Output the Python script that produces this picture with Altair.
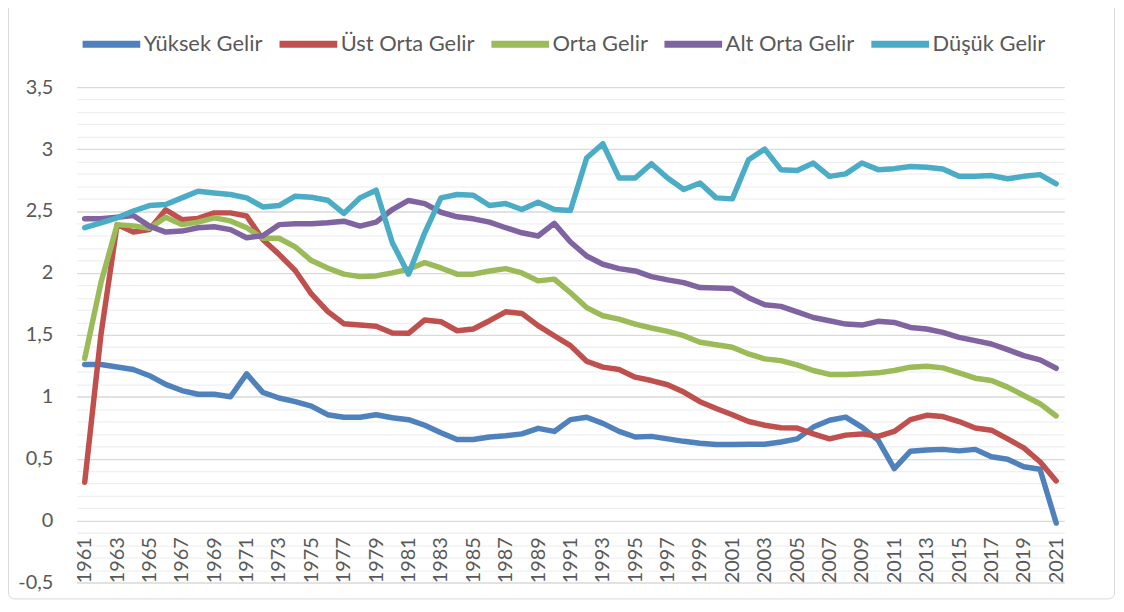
import altair as alt
import pandas as pd

years = list(range(1961, 2022))

series_names = ["Yüksek Gelir", "Üst Orta Gelir", "Orta Gelir", "Alt Orta Gelir", "Düşük Gelir"]
series_colors = ["#4F81BD", "#C0504D", "#9BBB59", "#8064A2", "#4BACC6"]

yuksek = [1.26, 1.26, 1.24, 1.22, 1.17, 1.10, 1.05, 1.02, 1.02, 1.00,
          1.185, 1.035, 0.99, 0.96, 0.925, 0.855, 0.835, 0.835, 0.855, 0.83,
          0.815, 0.77, 0.71, 0.655, 0.655, 0.675, 0.685, 0.70, 0.745, 0.72,
          0.815, 0.835, 0.785, 0.72, 0.675, 0.68, 0.66, 0.64, 0.625, 0.615,
          0.614, 0.617, 0.617, 0.635, 0.66, 0.755, 0.81, 0.835, 0.755, 0.65,
          0.42, 0.56, 0.57, 0.575, 0.563, 0.575, 0.515, 0.495, 0.435, 0.415,
          -0.02]
ust_orta = [0.31, 1.5, 2.39, 2.33, 2.35, 2.51, 2.43, 2.44, 2.485, 2.485,
            2.46, 2.27, 2.15, 2.02, 1.83, 1.69, 1.59, 1.58, 1.57, 1.515,
            1.512, 1.62, 1.606, 1.533, 1.547, 1.614, 1.686, 1.673, 1.574, 1.493,
            1.413, 1.287, 1.239, 1.22, 1.158, 1.131, 1.097, 1.038, 0.96, 0.905,
            0.855, 0.80, 0.77, 0.75, 0.748, 0.70, 0.66, 0.69, 0.70, 0.68,
            0.72, 0.815, 0.85, 0.84, 0.80, 0.748, 0.73, 0.66, 0.587, 0.475,
            0.32]
orta = [1.31, 1.92, 2.39, 2.38, 2.36, 2.45, 2.39, 2.41, 2.445, 2.42,
        2.365, 2.28, 2.28, 2.21, 2.10, 2.04, 1.99, 1.97, 1.976, 2.0,
        2.03, 2.083, 2.04, 1.99, 1.99, 2.016, 2.035, 2.00, 1.936, 1.95,
        1.84, 1.72, 1.654, 1.627, 1.587, 1.555, 1.528, 1.493, 1.44, 1.42,
        1.40, 1.346, 1.306, 1.292, 1.257, 1.212, 1.18, 1.18, 1.185, 1.193,
        1.212, 1.239, 1.247, 1.233, 1.193, 1.15, 1.131, 1.078, 1.01, 0.944,
        0.845]
alt_orta = [2.437, 2.437, 2.45, 2.464, 2.378, 2.33, 2.338, 2.365, 2.373, 2.35,
            2.284, 2.30, 2.39, 2.397, 2.397, 2.405, 2.418, 2.378, 2.41, 2.512,
            2.585, 2.56, 2.49, 2.453, 2.437, 2.41, 2.365, 2.324, 2.298, 2.40,
            2.25, 2.137, 2.07, 2.035, 2.016, 1.97, 1.944, 1.922, 1.882, 1.878,
            1.874, 1.80, 1.743, 1.73, 1.686, 1.64, 1.614, 1.587, 1.579, 1.609,
            1.60, 1.56, 1.547, 1.52, 1.48, 1.453, 1.426, 1.38, 1.332, 1.298,
            1.23]
dusuk = [2.365, 2.405, 2.445, 2.50, 2.544, 2.552, 2.606, 2.66, 2.646, 2.633,
         2.606, 2.533, 2.544, 2.62, 2.611, 2.587, 2.48, 2.606, 2.668, 2.244,
         1.99, 2.324, 2.606, 2.633, 2.627, 2.544, 2.56, 2.512, 2.571, 2.512,
         2.504, 2.928, 3.043, 2.767, 2.767, 2.882, 2.767, 2.673, 2.726, 2.606,
         2.598, 2.914, 3.0, 2.834, 2.828, 2.887, 2.78, 2.80, 2.887, 2.834,
         2.842, 2.86, 2.853, 2.84, 2.78, 2.78, 2.786, 2.761, 2.78, 2.794,
         2.72]

x_tick_years = list(range(1961, 2022, 2))
y_tick_values = [round(-0.5 + 0.1 * i, 1) for i in range(41)]

all_series = [yuksek, ust_orta, orta, alt_orta, dusuk]
rows = []
for name, vals in zip(series_names, all_series):
    for yr, v in zip(years, vals):
        rows.append({"series": name, "year": yr, "value": v})
df = pd.DataFrame(rows)

FONT = "Lato"
TXT = "#595959"
major_test = "abs(datum.value*2 - round(datum.value*2)) < 0.001"

lines = alt.Chart(df).mark_line(
    strokeWidth=5.5, strokeCap="round", strokeJoin="round"
).encode(
    x=alt.X("year:Q",
            scale=alt.Scale(domain=[1960.5, 2021.5], nice=False, zero=False),
            axis=alt.Axis(values=x_tick_years, format="d", labelAngle=-90,
                          offset=-46, labelPadding=0, ticks=False, tickSize=0,
                          domain=False, grid=False, labelFontSize=20,
                          labelFont=FONT, labelColor=TXT, labelFlush=False,
                          labelOverlap=False, labelBound=False, title=None)),
    y=alt.Y("value:Q",
            scale=alt.Scale(domain=[-0.5, 3.5], nice=False, zero=False),
            axis=alt.Axis(values=y_tick_values,
                          labelExpr=major_test + " ? replace('' + datum.value, '.', ',') : ''",
                          gridColor={"condition": {"test": major_test, "value": "#d9d9d9"}, "value": "#f0f0f0"},
                          gridWidth=1.3,
                          ticks=False, tickSize=0, domain=False, labelPadding=24,
                          labelFontSize=20, labelFont=FONT, labelColor=TXT,
                          labelOverlap=False, labelFlush=False, title=None)),
    color=alt.Color("series:N",
                    scale=alt.Scale(domain=series_names, range=series_colors),
                    sort=series_names,
                    legend=alt.Legend(orient="none", legendX=2.5, legendY=-76,
                                      direction="horizontal", title=None,
                                      symbolType="stroke", symbolSize=3364,
                                      symbolStrokeWidth=7, labelFontSize=22,
                                      labelFont=FONT, labelColor=TXT,
                                      labelOffset=0, columnPadding=2, padding=0)),
    order=alt.Order("year:Q"),
)

border = alt.Chart(pd.DataFrame({"a": [0]})).mark_rect(
    filled=False, stroke="#d9d9d9", strokeWidth=1, cornerRadius=6
).encode(
    x=alt.value(-68.5), x2=alt.value(1043.5), y=alt.value(-100), y2=alt.value(514.5)
)

chart = alt.layer(border, lines).properties(
    width=993, height=498,
    padding={"left": 69, "top": 78, "right": 52, "bottom": 18},
    autosize="none",
    background="white",
).configure_view(stroke=None)

chart.save("out.html", embed_options={"renderer": "svg", "actions": False})
